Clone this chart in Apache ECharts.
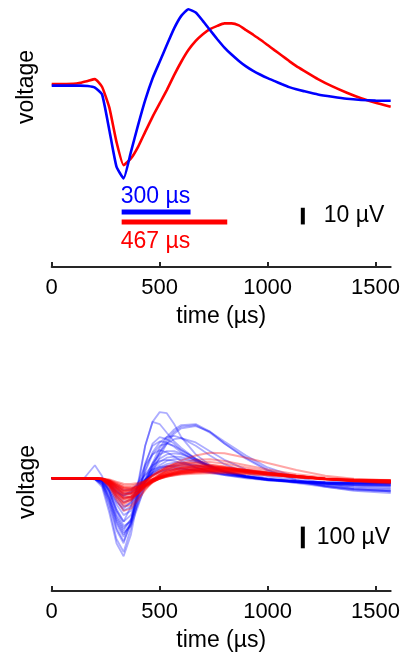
<!DOCTYPE html>
<html><head><meta charset="utf-8">
<script src="https://cdn.jsdelivr.net/npm/echarts@6/dist/echarts.min.js"></script>
<style>html,body{margin:0;padding:0;background:#fff}#c{width:406px;height:658px}</style>
</head><body><div id="c"></div>
<script>
// ---------- top panel: mean waveforms (µs, µV) ----------
const topTime = [0,100,133,167,200,233,267,300,333,367,400,433,467,500,533,567,600,633,667,700,733,767,800,833,867,900,933,967,1000,1033,1067,1100,1133,1167,1233,1300,1367,1433,1500,1570];
const topBlue = [-0.3,-0.3,-0.3,-0.5,-1.5,-5.5,-27,-48.9,-55.9,-40,-24,-9,4,14,24,34,41.5,45.5,43.5,38.5,33,27.5,22.5,18.3,14.5,11.2,8.5,6.2,4.2,2.4,0.5,-1.2,-2.5,-3.6,-5.6,-7,-8.2,-8.9,-9.3,-9.4];
const topRed  = [0.6,0.8,1.4,2.5,3.6,-1,-13.5,-34,-48,-44,-37,-28,-19,-11,-3,6,14,21,26.5,30.5,33.5,35.5,37,37,35.8,33,30.2,27.2,24,20.8,17.6,14.4,11.4,8.7,3.6,-0.8,-4.6,-7.9,-10.6,-13];
// trough-to-peak bars (µs) and their labels
const barStart = 324, blueBarEnd = 643, redBarEnd = 813;
const blueBarLabel = '300 µs', redBarLabel = '467 µs';
const topScaleLabel = '10 µV', topScaleUV = 10;
// ---------- bottom panel: individual waveforms ----------
const bottomTime = [0,150,200,233,267,300,333,367,400,433,467,500,533,567,600,667,733,800,900,1000,1133,1267,1400,1570];
const blueTraces = [
 [0,0,-5,-30,-120,-240,-300,-200,-20,150,260,305,300,250,190,110,60,30,5,-10,-20,-25,-28,-30],
 [0,0,60,10,-60,-150,-200,-130,-20,60,110,130,120,100,80,50,30,15,0,-10,-15,-18,-20,-20],
 [0,0,-3,-20,-90,-200,-260,-210,-110,-10,70,140,190,225,245,250,215,160,90,35,-10,-40,-55,-60],
 [0,0,-3,-15,-70,-170,-230,-190,-100,-20,50,120,175,215,238,245,210,160,95,40,-5,-35,-50,-55],
 [0,0,-2,-12,-60,-150,-220,-200,-120,-40,30,100,160,205,230,240,215,170,105,50,5,-25,-45,-50],
 [0,0,-4,-30,-140,-280,-340,-230,-40,150,260,250,210,170,140,90,55,30,5,-8,-18,-25,-28,-30],
 [0,0,-5,-40,-160,-300,-360,-260,-90,60,160,190,180,160,130,90,55,30,8,-5,-15,-22,-25,-25],
 [0,0,-3,-25,-110,-230,-290,-210,-60,70,150,170,165,145,120,80,50,25,5,-8,-16,-20,-22,-22],
 [0,0,-2,-15,-80,-180,-240,-190,-80,30,110,150,160,150,130,90,55,30,8,-6,-15,-20,-22,-22],
 [0,0,-2,-10,-60,-140,-200,-170,-90,0,70,110,125,125,115,85,55,30,8,-5,-15,-22,-26,-28],
 [0,0,-2,-10,-50,-120,-170,-150,-80,-10,50,90,110,115,110,85,58,34,10,-5,-18,-28,-35,-38],
 [0,0,-1,-8,-40,-100,-150,-130,-70,-10,40,75,95,100,98,80,55,33,10,-5,-18,-30,-40,-45],
 [0,0,-1,-6,-35,-85,-130,-115,-65,-15,30,60,80,88,88,75,55,35,12,-3,-18,-35,-50,-60],
 [0,0,-1,-5,-30,-75,-110,-100,-60,-15,25,50,65,72,72,62,46,30,10,-5,-22,-40,-58,-68],
 [0,0,-1,-4,-25,-60,-90,-85,-50,-10,20,40,55,62,64,58,45,30,12,-2,-18,-35,-50,-60],
 [0,0,-1,-4,-22,-55,-80,-70,-40,-5,25,45,55,58,56,48,36,22,8,-4,-15,-25,-32,-35],
 [0,0,-1,-3,-18,-45,-70,-65,-40,-10,15,32,42,46,46,40,30,20,6,-5,-14,-20,-24,-25],
 [0,0,0,-2,-12,-35,-55,-50,-30,-5,15,28,36,40,40,36,28,18,6,-4,-12,-17,-20,-20],
 [0,0,-2,-18,-100,-210,-270,-200,-70,40,120,165,190,195,185,150,105,65,25,0,-15,-25,-30,-30],
 [0,0,-3,-20,-95,-190,-250,-220,-130,-30,60,120,160,180,185,165,125,85,40,10,-10,-25,-32,-35],
 [0,0,-2,-12,-55,-110,-140,-110,-40,20,60,80,85,80,70,50,32,18,4,-6,-14,-18,-20,-20],
 [0,0,-1,-6,-30,-65,-80,-60,-20,15,40,52,55,52,46,35,24,14,3,-6,-14,-20,-22,-22]
];
const redTraces = [
 [0,0,0,-3,-15,-40,-60,-55,-35,-10,10,30,50,68,82,105,118,115,95,70,38,12,-2,-10],
 [0,0,0,-3,-20,-50,-75,-70,-45,-15,10,30,48,62,72,85,88,80,60,40,18,3,-6,-12],
 [0,0,-1,-5,-30,-75,-110,-100,-70,-35,-5,20,40,55,65,75,75,68,50,32,12,-2,-10,-15],
 [0,0,-1,-6,-40,-100,-150,-140,-100,-55,-15,15,38,52,60,65,62,55,40,25,8,-5,-12,-16],
 [0,0,-1,-5,-35,-90,-130,-125,-90,-50,-15,10,28,40,48,55,55,50,38,24,8,-4,-10,-14],
 [0,0,0,-4,-25,-65,-100,-95,-70,-38,-10,12,28,40,48,55,55,50,38,25,10,-2,-9,-12],
 [0,0,0,-3,-20,-50,-80,-80,-60,-35,-12,8,22,33,40,47,48,44,34,22,8,-3,-10,-14],
 [0,0,0,-3,-18,-45,-70,-70,-52,-30,-10,8,20,30,36,42,43,40,31,20,8,-3,-9,-12],
 [0,0,0,-2,-15,-38,-60,-60,-45,-25,-8,6,17,26,32,38,40,37,29,19,7,-3,-9,-12],
 [0,0,0,-2,-12,-30,-48,-50,-38,-22,-7,5,15,22,28,34,36,34,27,18,7,-2,-8,-10],
 [0,0,0,-2,-10,-25,-40,-42,-32,-18,-5,5,13,20,25,30,32,30,24,16,6,-2,-7,-9],
 [0,0,0,-1,-8,-20,-32,-34,-26,-14,-3,6,13,18,22,26,28,26,21,14,5,-2,-6,-8],
 [0,0,-1,-6,-35,-85,-120,-105,-70,-35,-5,18,35,45,52,56,54,48,36,22,7,-5,-12,-18],
 [0,0,-1,-4,-28,-70,-95,-90,-68,-40,-15,5,20,32,40,48,50,47,38,26,10,-3,-12,-18],
 [0,0,0,-3,-22,-55,-85,-88,-70,-45,-20,0,15,26,34,42,45,43,35,24,10,-2,-10,-15],
 [0,0,0,-2,-15,-40,-65,-68,-55,-36,-18,-2,12,22,30,38,42,41,34,24,10,-2,-12,-18],
 [0,0,0,-2,-12,-32,-52,-55,-45,-30,-15,-2,9,18,25,32,36,36,31,22,10,-2,-11,-17],
 [0,0,0,-2,-10,-26,-42,-45,-38,-26,-13,-2,7,14,20,27,31,31,27,20,9,-2,-10,-15],
 [0,0,-1,-5,-30,-80,-115,-95,-55,-15,15,38,55,65,70,70,62,52,36,20,5,-6,-12,-15],
 [0,0,-1,-4,-25,-65,-95,-85,-50,-15,12,32,46,55,60,60,55,46,32,18,4,-6,-12,-15],
 [0,0,0,-3,-18,-45,-70,-72,-58,-38,-18,0,14,25,33,42,46,45,38,27,12,-2,-14,-22],
 [0,0,0,-2,-12,-30,-45,-48,-40,-28,-14,-2,8,16,22,30,34,34,30,22,10,-3,-15,-24],
 [0,0,-1,-4,-25,-60,-90,-85,-60,-30,-5,15,30,40,46,50,48,42,32,20,6,-4,-10,-13],
 [0,0,0,-2,-14,-35,-55,-58,-48,-32,-15,0,12,21,28,35,38,37,31,22,9,-3,-12,-17],
 [0,0,0,-1,-6,-16,-25,-27,-22,-14,-6,2,8,13,17,21,23,23,20,14,6,-2,-7,-9]
];
const bottomScaleLabel = '100 µV', bottomScaleUV = 100;
const xTicks = [0, 500, 1000, 1500];

// ---------- layout ----------
const FONT = '"Liberation Sans", Arial, Helvetica, sans-serif';
const scaleX = 1163;
const topBarY = {blue: -76, red: -82}, topLabelY = {blue: -67, red: -94};
const topScaleMid = -78.5, bottomScaleMid = -273;

const chart = echarts.init(document.getElementById('c'), null, {renderer: 'canvas'});
function xAxisCfg(gi) {
  return {
    gridIndex: gi, type: 'value', min: 0, max: 1570, interval: xTicks[1] - xTicks[0],
    axisLine: {onZero: false, lineStyle: {color: '#262626', width: 2}},
    axisTick: {inside: true, length: 5, lineStyle: {color: '#262626', width: 2}},
    axisLabel: {fontSize: 22, color: '#000', margin: 10, fontFamily: FONT, formatter: v => String(v)},
    splitLine: {show: false},
    name: 'time (µs)', nameLocation: 'middle', nameGap: 38,
    nameTextStyle: {fontSize: 23, color: '#000', fontFamily: FONT}
  };
}
const series = [];
series.push({type: 'line', xAxisIndex: 0, yAxisIndex: 0, data: topTime.map((t, i) => [t, topRed[i]]),
  showSymbol: false, smooth: 0.15, lineStyle: {color: '#ff0000', width: 2.6}, z: 2});
series.push({type: 'line', xAxisIndex: 0, yAxisIndex: 0, data: topTime.map((t, i) => [t, topBlue[i]]),
  showSymbol: false, smooth: 0.15, lineStyle: {color: '#0000ff', width: 2.6}, z: 3});
series.push({type: 'line', xAxisIndex: 0, yAxisIndex: 0, data: [[barStart, topBarY.blue], [blueBarEnd, topBarY.blue]],
  showSymbol: false, lineStyle: {color: '#0000ff', width: 5}});
series.push({type: 'line', xAxisIndex: 0, yAxisIndex: 0, data: [[barStart, topBarY.red], [redBarEnd, topBarY.red]],
  showSymbol: false, lineStyle: {color: '#ff0000', width: 5}});
series.push({type: 'scatter', xAxisIndex: 0, yAxisIndex: 0, symbolSize: 0, silent: true, itemStyle: {opacity: 1},
  data: [
    {value: [barStart, topLabelY.blue], label: {formatter: blueBarLabel, color: '#0000ff'}},
    {value: [barStart, topLabelY.red], label: {formatter: redBarLabel, color: '#ff0000'}}
  ],
  label: {show: true, position: 'right', distance: -1, fontSize: 23, fontFamily: FONT}});
// top scale bar
series.push({type: 'line', xAxisIndex: 0, yAxisIndex: 0,
  data: [[scaleX, topScaleMid + topScaleUV / 2], [scaleX, topScaleMid - topScaleUV / 2]],
  showSymbol: false, lineStyle: {color: '#000', width: 4}});
series.push({type: 'scatter', xAxisIndex: 0, yAxisIndex: 0, symbolSize: 0, silent: true, itemStyle: {opacity: 1},
  data: [[scaleX, topScaleMid]],
  label: {show: true, position: 'right', distance: 21, formatter: topScaleLabel, fontSize: 23, color: '#000', fontFamily: FONT}});
// bottom traces
blueTraces.forEach(tr => series.push({type: 'line', xAxisIndex: 1, yAxisIndex: 1,
  data: bottomTime.map((t, i) => [t, tr[i]]), showSymbol: false, silent: true,
  lineStyle: {color: 'rgba(0,0,255,0.32)', width: 1.8}, z: 2}));
redTraces.forEach(tr => series.push({type: 'line', xAxisIndex: 1, yAxisIndex: 1,
  data: bottomTime.map((t, i) => [t, tr[i]]), showSymbol: false, silent: true,
  lineStyle: {color: 'rgba(255,0,0,0.35)', width: 2}, z: 3}));
series.push({type: 'line', xAxisIndex: 1, yAxisIndex: 1,
  data: [[scaleX, bottomScaleMid + bottomScaleUV / 2], [scaleX, bottomScaleMid - bottomScaleUV / 2]],
  showSymbol: false, lineStyle: {color: '#000', width: 4}});
series.push({type: 'scatter', xAxisIndex: 1, yAxisIndex: 1, symbolSize: 0, silent: true, itemStyle: {opacity: 1},
  data: [[scaleX, bottomScaleMid]],
  label: {show: true, position: 'right', distance: 14, formatter: bottomScaleLabel, fontSize: 23, color: '#000', fontFamily: FONT}});

chart.setOption({
  animation: false,
  backgroundColor: '#fff',
  grid: [
    {left: 51.7, width: 339, top: 0, height: 267},
    {left: 51.7, width: 339, top: 395, height: 196}
  ],
  xAxis: [xAxisCfg(0), xAxisCfg(1)],
  yAxis: [
    {gridIndex: 0, type: 'value', min: -109, max: 51, show: false},
    {gridIndex: 1, type: 'value', min: -520, max: 384, show: false}
  ],
  graphic: [
    {type: 'text', x: 27, y: 87, rotation: Math.PI / 2,
     style: {text: 'voltage', fontSize: 23, fontFamily: FONT, fill: '#000', textAlign: 'center', textVerticalAlign: 'middle'}},
    {type: 'text', x: 28, y: 482, rotation: Math.PI / 2,
     style: {text: 'voltage', fontSize: 23, fontFamily: FONT, fill: '#000', textAlign: 'center', textVerticalAlign: 'middle'}}
  ],
  series: series
});
</script></body></html>
